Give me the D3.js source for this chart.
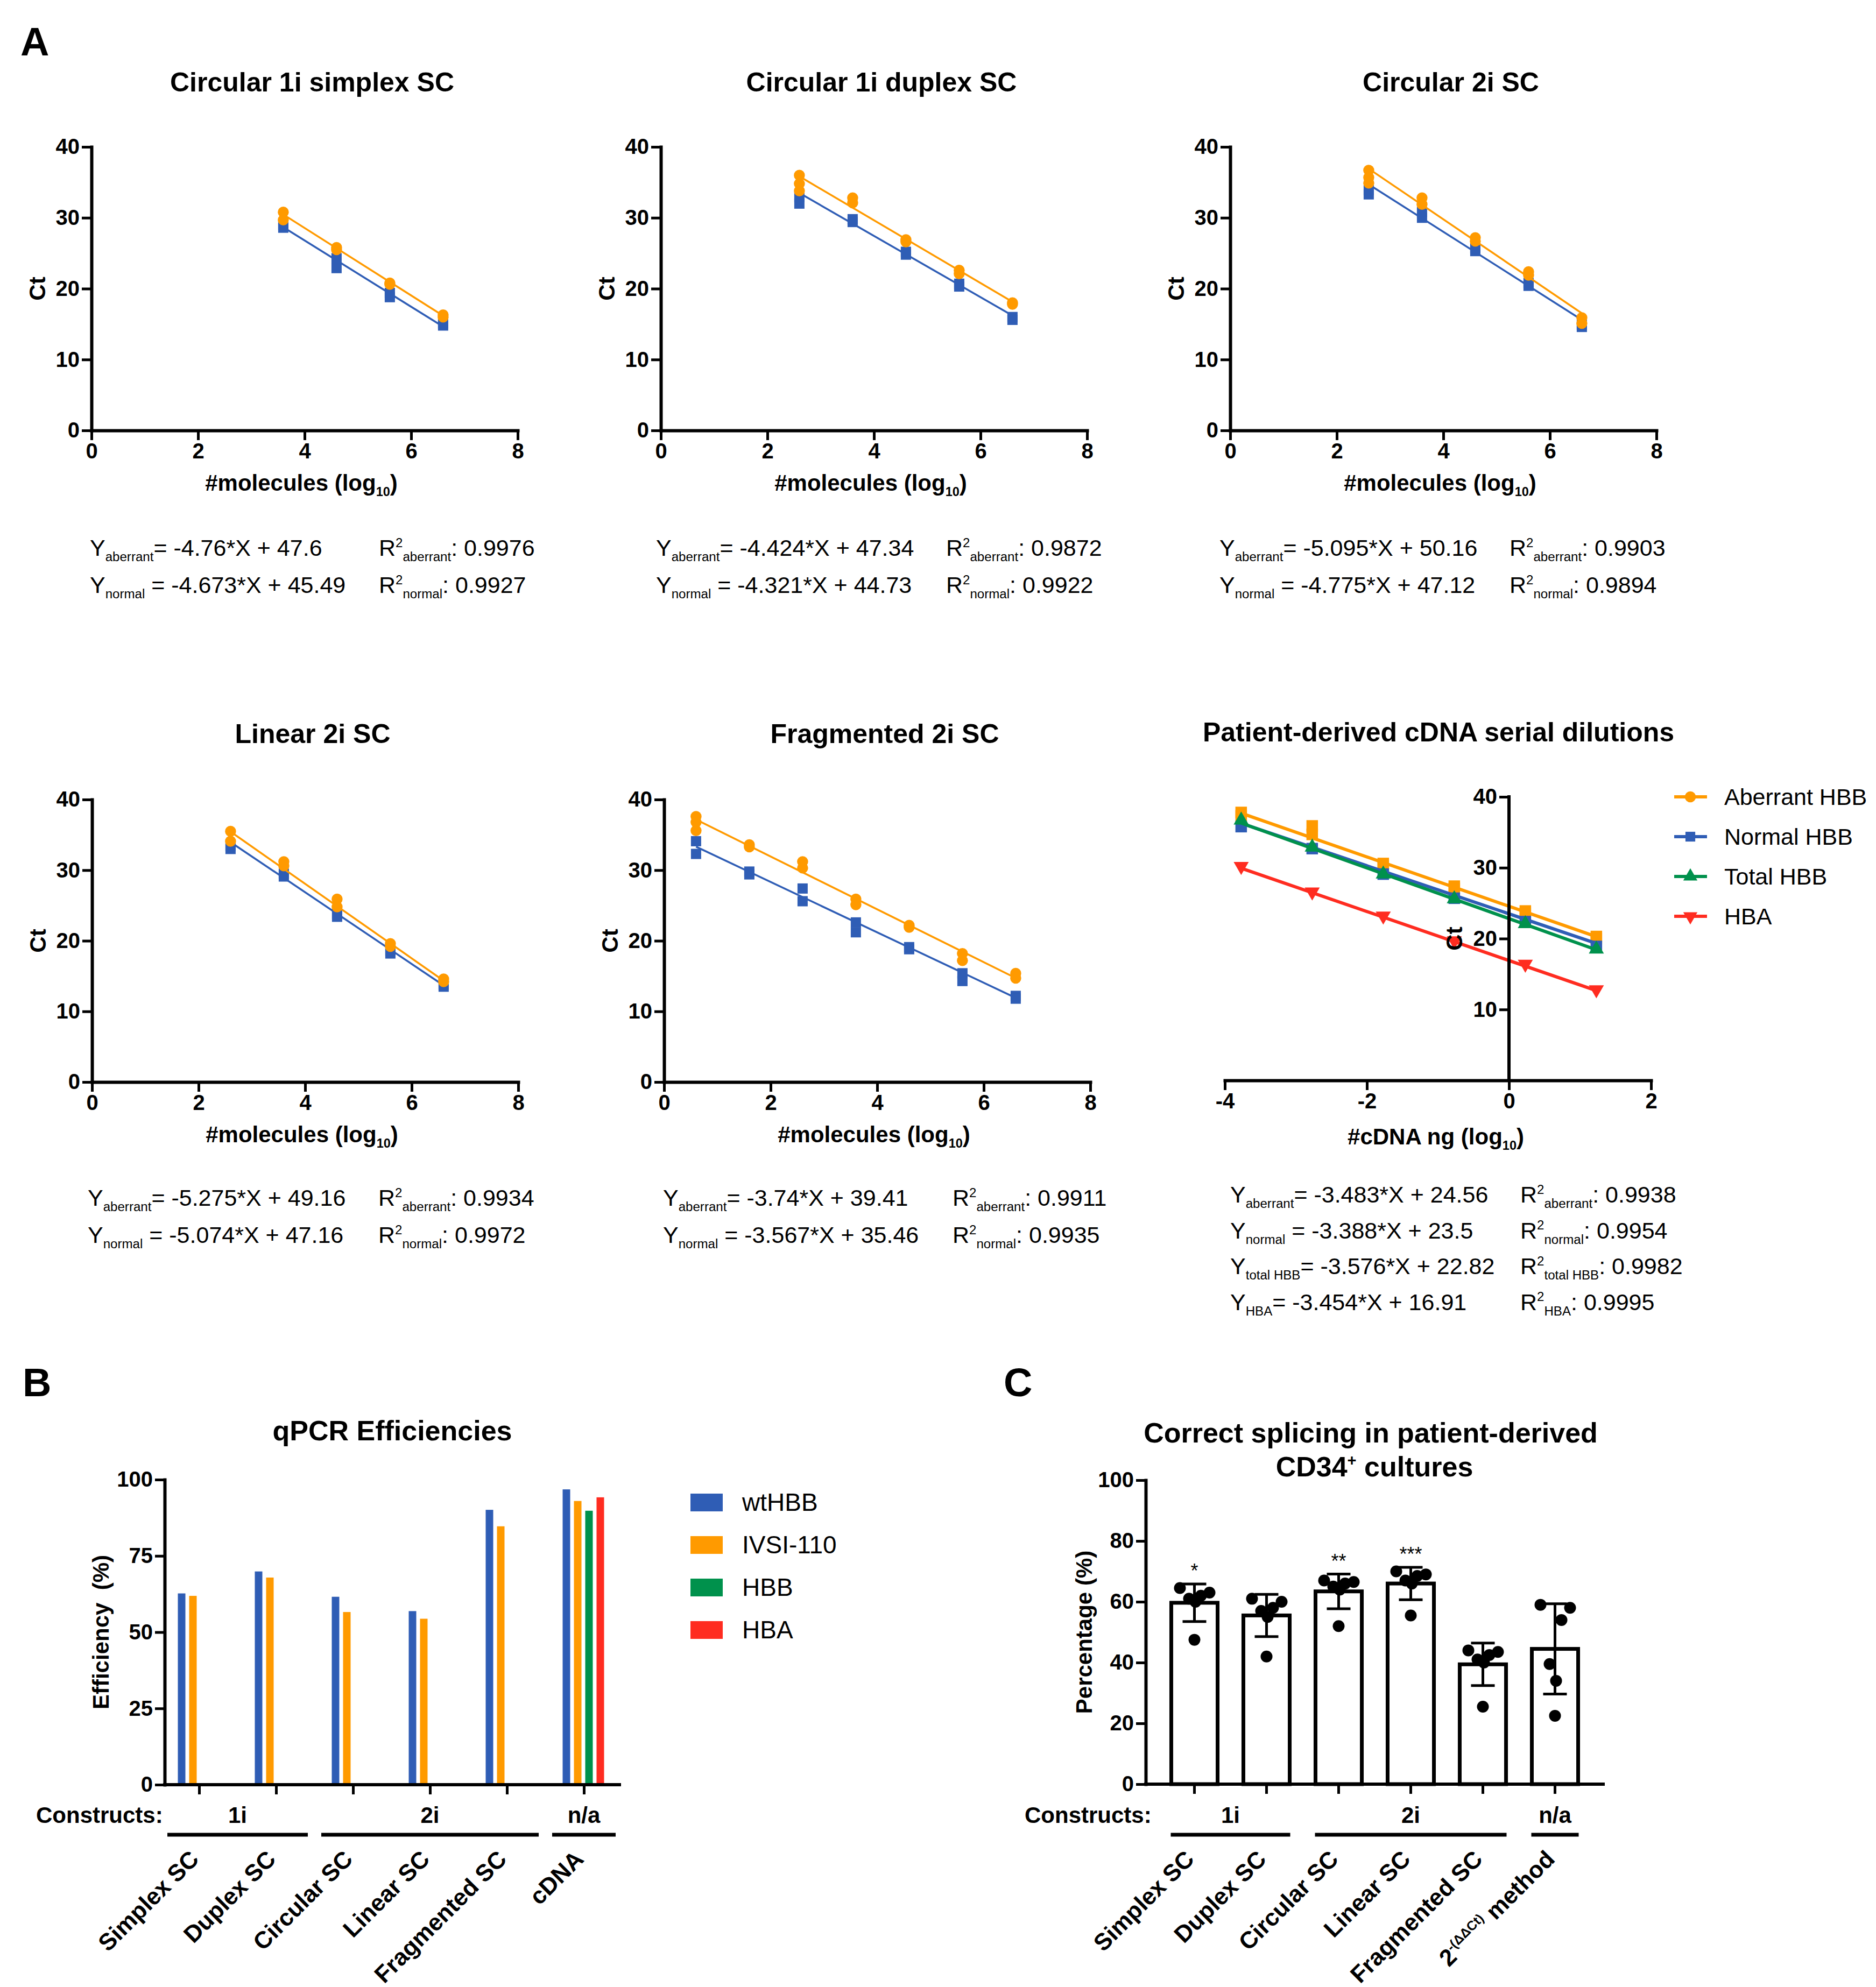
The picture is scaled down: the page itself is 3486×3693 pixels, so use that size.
<!DOCTYPE html>
<html lang="en">
<head>
<meta charset="UTF-8">
<title>qPCR standard curves, efficiencies and correct splicing</title>
<script src="https://cdn.jsdelivr.net/npm/d3@7"></script>
<style>
  body { margin: 0; background: #fff; }
  svg { display: block; }
  text { fill: #000; white-space: pre; }
</style>
</head>
<body>
<script>
const W = 3486, H = 3693;
const FONT = "'Liberation Sans', Arial, Helvetica, sans-serif";
const ORANGE = "#ff9a00", BLUE = "#2f5db5", GREEN = "#00914c", RED = "#ff2c20";

// ---------- panel A: standard curves (Ct vs log10 #molecules) ----------
const curveTitles = ["Circular 1i simplex SC", "Circular 1i duplex SC", "Circular 2i SC",
                     "Linear 2i SC", "Fragmented 2i SC"];

const simplexLog = [3.6, 4.6, 5.6, 6.6];
const simplexAberrant = [[30.8, 29.7], [25.8, 25.5], [20.8, 20.6], [16.3, 16.0]];
const simplexNormal = [[29.0, 28.6], [24.3, 22.9], [19.4, 18.8], [15.1, 14.8]];

const duplexLog = [2.6, 3.6, 4.6, 5.6, 6.6];
const duplexAberrant = [[36.0, 34.8, 33.8], [32.8, 32.1], [26.9, 26.6], [22.6, 22.1], [18.0, 17.8]];
const duplexNormal = [[32.9, 32.0], [29.8, 29.4], [25.2, 24.8], [20.7, 20.3], [16.0, 15.6]];

const circ2iLog = [2.6, 3.6, 4.6, 5.6, 6.6];
const circ2iAberrant = [[36.7, 35.7, 34.9], [32.8, 31.9], [27.2, 26.7], [22.4, 21.9], [15.9, 15.1]];
const circ2iNormal = [[33.9, 33.3], [30.8, 30.0], [25.7, 25.3], [20.8, 20.4], [14.9, 14.6]];

const linearLog = [2.6, 3.6, 4.6, 5.6, 6.6];
const linearAberrant = [[35.5, 34.1], [31.2, 30.6], [25.9, 24.8], [19.6, 19.2], [14.6, 14.2]];
const linearNormal = [[33.4, 33.0], [29.5, 29.1], [23.8, 23.4], [18.6, 18.2], [13.8, 13.5]];

const fragLog = [0.6, 1.6, 2.6, 3.6, 4.6, 5.6, 6.6];
const fragAberrant = [[37.6, 36.8, 35.6], [33.6, 33.3], [31.2, 30.3], [25.9, 25.1], [22.2, 21.9], [18.2, 17.2], [15.4, 14.7]];
const fragNormal = [[34.1, 32.3], [29.8, 29.4], [27.4, 25.6], [22.6, 21.2], [19.1, 18.8], [15.4, 14.3], [12.2, 11.8]];

const aberrantSlope = [-4.76, -4.424, -5.095, -5.275, -3.74];
const aberrantIntercept = [47.6, 47.34, 50.16, 49.16, 39.41];
const aberrantR2 = ["0.9976", "0.9872", "0.9903", "0.9934", "0.9911"];
const normalSlope = [-4.673, -4.321, -4.775, -5.074, -3.567];
const normalIntercept = [45.49, 44.73, 47.12, 47.16, 35.46];
const normalR2 = ["0.9927", "0.9922", "0.9894", "0.9972", "0.9935"];

// patient-derived cDNA dilutions
const cdnaTitle = "Patient-derived cDNA serial dilutions";
const cdnaSeries = ["Aberrant HBB", "Normal HBB", "Total HBB", "HBA"];
const cdnaEqLabels = ["aberrant", "normal", "total HBB", "HBA"];
const cdnaDose = [-3.77, -2.77, -1.77, -0.77, 0.23, 1.23];
const cdnaAberrant = [[37.8, 37.3], [35.9, 34.7], [30.6, 30.3], [27.4, 27.1], [23.9, 23.6], [20.3, 20.0]];
const cdnaNormal = [[35.8], [32.7], [29.1], [25.7], [22.4], [18.9]];
const cdnaTotal = [[36.7], [32.9], [29.1], [25.6], [22.1], [18.5]];
const cdnaHBA = [[30.2], [26.6], [23.2], [19.7], [16.4], [12.8]];
const cdnaSlope = [-3.483, -3.388, -3.576, -3.454];
const cdnaIntercept = [24.56, 23.5, 22.82, 16.91];
const cdnaR2 = ["0.9938", "0.9954", "0.9982", "0.9995"];

// ---------- panel B: qPCR efficiencies ----------
const constructs = ["Simplex SC", "Duplex SC", "Circular SC", "Linear SC", "Fragmented SC", "cDNA"];
const effSeries = ["wtHBB", "IVSI-110", "HBB", "HBA"];
const effWtHBB = [62.7, 69.9, 61.6, 56.9, 90.1, 96.8];
const effIVSI110 = [61.9, 67.9, 56.6, 54.4, 84.7, 93.0];
const effHBB = [null, null, null, null, null, 89.8];
const effHBA = [null, null, null, null, null, 94.2];

const groupLabels = ["1i", "2i", "n/a"];
const groupFirst = [0, 2, 5];
const groupLast = [1, 4, 5];

// ---------- panel C: correct splicing ----------
const spliceCats = ["Simplex SC", "Duplex SC", "Circular SC", "Linear SC", "Fragmented SC", "2ddCt"];
const spliceValues = [
  [64.5, 63, 62, 61, 60, 47.5],
  [61, 60, 58, 57, 55, 42],
  [67, 66.5, 66, 65, 64, 52],
  [70, 69, 68.5, 67, 66, 55.5],
  [44, 43.5, 42.5, 41, 40, 25.5],
  [59, 58, 54, 39.5, 34, 22.5]
];
const spliceStars = ["*", "", "**", "***", "", ""];

// ======================================================================
const svg = d3.select("body").append("svg")
  .attr("width", W).attr("height", H)
  .attr("viewBox", `0 0 ${W} ${H}`)
  .attr("font-family", FONT);

svg.append("rect").attr("width", W).attr("height", H).attr("fill", "#fff");

// text with sub/superscript pieces: parts = [[text, "" | "sub" | "sup"], ...]
function rich(text, parts, base) {
  let shift = 0;
  parts.forEach(([t, kind]) => {
    const target = kind === "sub" ? base * 0.24 : kind === "sup" ? -base * 0.38 : 0;
    const ts = text.append("tspan").text(t).attr("dy", target - shift);
    if (kind) ts.attr("font-size", base * 0.56);
    shift = target;
  });
  return text;
}

function styleAxis(g, fs) {
  g.attr("font-family", FONT).attr("font-size", fs).attr("font-weight", "bold");
  g.select(".domain").attr("stroke", "#000").attr("stroke-width", 6).attr("stroke-linecap", "square");
  g.selectAll(".tick line").attr("stroke", "#000").attr("stroke-width", 5);
  g.selectAll(".tick text").attr("fill", "#000");
}

function marker(shape, size) {
  const type = shape === "circle" ? d3.symbolCircle
    : shape === "square" ? d3.symbolSquare : d3.symbolTriangle;
  return d3.symbol().type(type).size(size)();
}

svg.append("text").attr("x", 38).attr("y", 103)
  .attr("font-size", 74).attr("font-weight", "bold").text("A");

// layout of the five molecule panels
const curveLayout = [
  {x0: 170,  top: 273,  bottom: 800,  titleY: 170,  eqX: 167,  r2X: 704,  eqY: 1033},
  {x0: 1228, top: 273,  bottom: 800,  titleY: 170,  eqX: 1219, r2X: 1758, eqY: 1033},
  {x0: 2286, top: 273,  bottom: 800,  titleY: 170,  eqX: 2266, r2X: 2805, eqY: 1033},
  {x0: 171,  top: 1486, bottom: 2011, titleY: 1381, eqX: 163,  r2X: 703,  eqY: 2241},
  {x0: 1234, top: 1486, bottom: 2011, titleY: 1381, eqX: 1232, r2X: 1770, eqY: 2241}
];
const curveData = [
  [simplexLog, simplexAberrant, simplexNormal],
  [duplexLog, duplexAberrant, duplexNormal],
  [circ2iLog, circ2iAberrant, circ2iNormal],
  [linearLog, linearAberrant, linearNormal],
  [fragLog, fragAberrant, fragNormal]
];

function drawSeries(g, x, y, xs, reps, slope, icpt, color, shape, size, lw, flip) {
  const ext = d3.extent(xs);
  g.append("path")
    .datum(ext)
    .attr("fill", "none").attr("stroke", color).attr("stroke-width", lw)
    .attr("d", d3.line().x(d => x(d)).y(d => y(slope * d + icpt)));
  const pts = xs.flatMap((xv, i) => reps[i].map(v => [xv, v]));
  g.selectAll(null).data(pts).join("path")
    .attr("d", marker(shape, size))
    .attr("fill", color)
    .attr("transform", d => `translate(${x(d[0])},${y(d[1])})${flip ? " rotate(180)" : ""}`);
}

function eqLine(g, xPos, yPos, label, sep, slope, icpt) {
  rich(g.append("text").attr("x", xPos).attr("y", yPos).attr("font-size", 43),
    [["Y", ""], [label, "sub"], [`${sep}= ${slope}*X + ${icpt}`, ""]], 43);
}
function r2Line(g, xPos, yPos, label, r2) {
  rich(g.append("text").attr("x", xPos).attr("y", yPos).attr("font-size", 43),
    [["R", ""], ["2", "sup"], [label, "sub"], [`: ${r2}`, ""]], 43);
}

curveLayout.forEach((L, i) => {
  const [xs, aberrant, normal] = curveData[i];
  const g = svg.append("g");
  const x = d3.scaleLinear().domain([0, 8]).range([L.x0, L.x0 + 792]);
  const y = d3.scaleLinear().domain([0, 40]).range([L.bottom, L.top]);

  g.append("text").attr("x", L.x0 + 410).attr("y", L.titleY)
    .attr("text-anchor", "middle").attr("font-size", 50).attr("font-weight", "bold")
    .text(curveTitles[i]);

  drawSeries(g, x, y, xs, normal, normalSlope[i], normalIntercept[i], BLUE, "square", 361, 3.5);
  drawSeries(g, x, y, xs, aberrant, aberrantSlope[i], aberrantIntercept[i], ORANGE, "circle", 330, 3.5);

  g.append("g").attr("transform", `translate(0,${L.bottom})`)
    .call(d3.axisBottom(x).tickValues([0, 2, 4, 6, 8]).tickSize(18).tickSizeOuter(0).tickPadding(6))
    .call(a => styleAxis(a, 40));
  g.append("g").attr("transform", `translate(${L.x0},0)`)
    .call(d3.axisLeft(y).tickValues([0, 10, 20, 30, 40]).tickSize(18).tickSizeOuter(0).tickPadding(4))
    .call(a => styleAxis(a, 40));

  g.append("text")
    .attr("transform", `translate(${L.x0 - 86},${(L.top + L.bottom) / 2}) rotate(-90)`)
    .attr("text-anchor", "middle").attr("font-size", 42).attr("font-weight", "bold").text("Ct");
  rich(g.append("text").attr("x", L.x0 + 390).attr("y", L.bottom + 112)
    .attr("text-anchor", "middle").attr("font-size", 42).attr("font-weight", "bold"),
    [["#molecules (log", ""], ["10", "sub"], [")", ""]], 42);

  eqLine(g, L.eqX, L.eqY, "aberrant", "", aberrantSlope[i], aberrantIntercept[i]);
  eqLine(g, L.eqX, L.eqY + 69, "normal", " ", normalSlope[i], normalIntercept[i]);
  r2Line(g, L.r2X, L.eqY, "aberrant", aberrantR2[i]);
  r2Line(g, L.r2X, L.eqY + 69, "normal", normalR2[i]);
});

// ---------- cDNA dilution panel ----------
{
  const g = svg.append("g");
  const x = d3.scaleLinear().domain([-4, 2]).range([2276, 3068]);
  const y = d3.scaleLinear().domain([0, 40]).range([2008, 1481]);
  const colors = [ORANGE, BLUE, GREEN, RED];
  const plotShapes = ["square", "square", "triangle", "triangle"];
  const legendShapes = ["circle", "square", "triangle", "triangle"];
  const reps = [cdnaAberrant, cdnaNormal, cdnaTotal, cdnaHBA];

  g.append("text").attr("x", 2673).attr("y", 1378)
    .attr("text-anchor", "middle").attr("font-size", 50).attr("font-weight", "bold").text(cdnaTitle);

  cdnaSeries.forEach((s, k) => {
    drawSeries(g, x, y, cdnaDose, reps[k], cdnaSlope[k], cdnaIntercept[k], colors[k],
      plotShapes[k], plotShapes[k] === "square" ? 460 : 340, 6, k === 3);
  });

  g.append("g").attr("transform", `translate(0,${y(0)})`)
    .call(d3.axisBottom(x).tickValues([-4, -2, 0, 2]).tickFormat(d => String(d))
      .tickSize(18).tickSizeOuter(0).tickPadding(6))
    .call(a => styleAxis(a, 40));
  g.append("g").attr("transform", `translate(${x(0)},0)`)
    .call(d3.axisLeft(y).tickValues([10, 20, 30, 40]).tickSize(18).tickSizeOuter(0).tickPadding(4))
    .call(a => styleAxis(a, 40))
    .call(a => a.select(".domain").attr("d", `M0,${y(0)}V${y(40)}`));

  g.append("text")
    .attr("transform", `translate(${x(0) - 87},${(y(0) + y(40)) / 2}) rotate(-90)`)
    .attr("text-anchor", "middle").attr("font-size", 42).attr("font-weight", "bold").text("Ct");
  rich(g.append("text").attr("x", 2668).attr("y", y(0) + 119)
    .attr("text-anchor", "middle").attr("font-size", 42).attr("font-weight", "bold"),
    [["#cDNA ng (log", ""], ["10", "sub"], [")", ""]], 42);

  // legend
  const lg = g.append("g").attr("transform", "translate(3111,1481)");
  cdnaSeries.forEach((s, k) => {
    const row = lg.append("g").attr("transform", `translate(0,${k * 74})`);
    row.append("line").attr("x1", 0).attr("x2", 61).attr("stroke", colors[k]).attr("stroke-width", 6);
    row.append("path").attr("d", marker(legendShapes[k], legendShapes[k] === "triangle" ? 300 : 330))
      .attr("fill", colors[k])
      .attr("transform", `translate(30,0)${k === 3 ? " rotate(180)" : ""}`);
    row.append("text").attr("x", 93).attr("y", 15).attr("font-size", 43).text(s);
  });

  cdnaSeries.forEach((s, k) => {
    const yy = 2235 + k * 66.5;
    eqLine(g, 2286, yy, cdnaEqLabels[k], k === 1 ? " " : "", cdnaSlope[k], cdnaIntercept[k]);
    r2Line(g, 2825, yy, cdnaEqLabels[k], cdnaR2[k]);
  });
}

// category labels + construct grouping below an x axis
function categoryFooter(g, centre, cats, halfSpan, labelFn, constructsX) {
  g.append("text").attr("x", constructsX).attr("y", 3388)
    .attr("font-size", 42).attr("font-weight", "bold").text("Constructs:");
  groupLabels.forEach((lab, j) => {
    const a = centre(cats[groupFirst[j]]), b = centre(cats[groupLast[j]]);
    g.append("text").attr("x", (a + b) / 2).attr("y", 3388)
      .attr("text-anchor", "middle").attr("font-size", 42).attr("font-weight", "bold").text(lab);
    g.append("line").attr("x1", a - halfSpan).attr("x2", b + halfSpan)
      .attr("y1", 3410).attr("y2", 3410).attr("stroke", "#000").attr("stroke-width", 7);
  });
  cats.forEach(c => {
    const t = g.append("text")
      .attr("transform", `translate(${centre(c) + 2},3458) rotate(-45)`)
      .attr("text-anchor", "end").attr("font-size", 44).attr("font-weight", "bold");
    labelFn(t, c);
  });
}

// ---------- panel B ----------
{
  const g = svg.append("g");
  svg.append("text").attr("x", 42).attr("y", 2595)
    .attr("font-size", 74).attr("font-weight", "bold").text("B");
  g.append("text").attr("x", 729).attr("y", 2677)
    .attr("text-anchor", "middle").attr("font-size", 52).attr("font-weight", "bold").text("qPCR Efficiencies");

  const x = d3.scalePoint().domain(constructs).range([370, 1085]);
  const sub = d3.scaleBand().domain(effSeries).range([-43, 41]);
  const y = d3.scaleLinear().domain([0, 100]).range([3317, 2750]);
  const colors = [BLUE, ORANGE, GREEN, RED];
  const values = [effWtHBB, effIVSI110, effHBB, effHBA];

  effSeries.forEach((s, k) => {
    const rows = constructs.map((c, i) => ({c, v: values[k][i]})).filter(d => d.v != null);
    g.selectAll(null).data(rows).join("rect")
      .attr("x", d => x(d.c) + sub(s) + sub.bandwidth() / 2 - 7)
      .attr("width", 14)
      .attr("y", d => y(d.v))
      .attr("height", d => y(0) - y(d.v))
      .attr("fill", colors[k]);
  });

  g.append("g").attr("transform", `translate(0,${y(0)})`)
    .call(d3.axisBottom(x).tickSize(18).tickSizeOuter(0).tickFormat(""))
    .call(a => styleAxis(a, 40))
    .call(a => a.select(".domain").attr("d", "M306,0H1151"));
  g.append("g").attr("transform", "translate(306,0)")
    .call(d3.axisLeft(y).tickValues([0, 25, 50, 75, 100]).tickSize(18).tickSizeOuter(0).tickPadding(4))
    .call(a => styleAxis(a, 40));

  g.append("text")
    .attr("transform", `translate(202,${(y(0) + y(100)) / 2}) rotate(-90)`)
    .attr("text-anchor", "middle").attr("font-size", 42).attr("font-weight", "bold")
    .text("Efficiency\u00a0 (%)");

  categoryFooter(g, c => x(c), constructs, 59, (t, c) => t.text(c), 67);

  const lg = g.append("g").attr("transform", "translate(1283,2776)");
  effSeries.forEach((s, k) => {
    const row = lg.append("g").attr("transform", `translate(0,${k * 79})`);
    row.append("rect").attr("width", 60).attr("height", 33).attr("fill", colors[k]);
    row.append("text").attr("x", 96).attr("y", 32).attr("font-size", 46).text(s);
  });
}

// ---------- panel C ----------
{
  const g = svg.append("g");
  svg.append("text").attr("x", 1865).attr("y", 2595)
    .attr("font-size", 74).attr("font-weight", "bold").text("C");
  g.append("text").attr("x", 2547).attr("y", 2681)
    .attr("text-anchor", "middle").attr("font-size", 52).attr("font-weight", "bold")
    .text("Correct splicing in patient-derived");
  rich(g.append("text").attr("x", 2554).attr("y", 2744)
    .attr("text-anchor", "middle").attr("font-size", 52).attr("font-weight", "bold"),
    [["CD34", ""], ["+", "sup"], [" cultures", ""]], 52);

  const x = d3.scaleBand().domain(spliceCats).range([2152.5, 2956.5])
    .paddingInner(0.313).paddingOuter(0.1565);
  const y = d3.scaleLinear().domain([0, 100]).range([3316, 2751]);
  const cx = c => x(c) + x.bandwidth() / 2;
  const offsets = [-27, 28, 12, -10, 2, 0];

  const stats = spliceCats.map((c, i) => ({
    c, vals: spliceValues[i], mean: d3.mean(spliceValues[i]), sd: d3.deviation(spliceValues[i]),
    star: spliceStars[i]
  }));

  g.selectAll(null).data(stats).join("rect")
    .attr("x", d => x(d.c) + 3).attr("width", x.bandwidth() - 6)
    .attr("y", d => y(d.mean)).attr("height", d => y(0) - y(d.mean))
    .attr("fill", "#fff").attr("stroke", "#000").attr("stroke-width", 7);

  stats.forEach(d => {
    const order = d.vals.map((v, j) => [v, j]).sort((a, b) => b[0] - a[0]);
    g.selectAll(null).data(order).join("circle")
      .attr("cx", (o, r) => cx(d.c) + offsets[r])
      .attr("cy", o => y(o[0]))
      .attr("r", 11).attr("fill", "#000");
    const eg = g.append("g").attr("stroke", "#000").attr("stroke-width", 5);
    eg.append("line").attr("x1", cx(d.c)).attr("x2", cx(d.c))
      .attr("y1", y(d.mean - d.sd)).attr("y2", y(d.mean + d.sd));
    [d.mean - d.sd, d.mean + d.sd].forEach(v => {
      eg.append("line").attr("x1", cx(d.c) - 22).attr("x2", cx(d.c) + 22)
        .attr("y1", y(v)).attr("y2", y(v));
    });
    if (d.star) {
      g.append("text").attr("x", cx(d.c)).attr("y", y(d.mean + d.sd) - 12)
        .attr("text-anchor", "middle").attr("font-size", 36).text(d.star);
    }
  });

  g.append("g").attr("transform", `translate(0,${y(0)})`)
    .call(d3.axisBottom(x).tickSize(18).tickSizeOuter(0).tickFormat(""))
    .call(a => styleAxis(a, 40))
    .call(a => a.select(".domain").attr("d", "M2129,0H2979"));
  g.append("g").attr("transform", "translate(2129,0)")
    .call(d3.axisLeft(y).tickValues([0, 20, 40, 60, 80, 100]).tickSize(18).tickSizeOuter(0).tickPadding(4))
    .call(a => styleAxis(a, 40));

  g.append("text")
    .attr("transform", `translate(2029,${(y(0) + y(100)) / 2}) rotate(-90)`)
    .attr("text-anchor", "middle").attr("font-size", 42).attr("font-weight", "bold")
    .text("Percentage (%)");

  categoryFooter(g, cx, spliceCats, 44, (t, c) => {
    if (c === "2ddCt") rich(t, [["2", ""], ["-(\u0394\u0394Ct)", "sup"], [" method", ""]], 44);
    else t.text(c);
  }, 1904);
}
</script>
</body>
</html>
